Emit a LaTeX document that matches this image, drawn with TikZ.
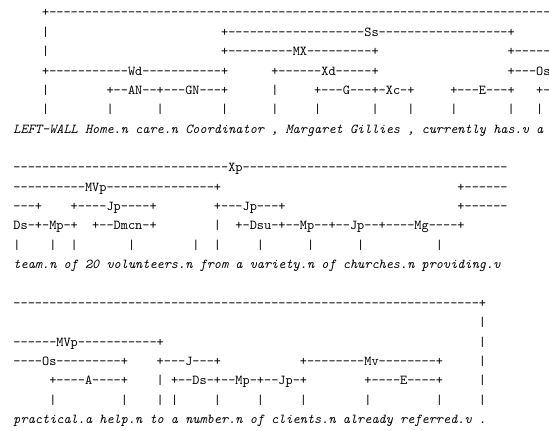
\documentclass[tikz,border=0pt]{standalone}
\usepackage{fontspec}
\ExplSyntaxOn
\cs_new:Npn \lgdash #1 { \prg_replicate:nn {#1} {-} }
\ExplSyntaxOff
\tikzset{
  lg/.style={anchor=base west, inner sep=0pt, font=\ttfamily},
  lgword/.style={lg, font=\ttfamily\itshape}
}

\begin{document}
\begin{tikzpicture}[x=5.25pt, y=14.2pt]
    \useasboundingbox (-1.84,0.873) rectangle (74.82,-21.33);
    
    % first line
    \node[lg] (xp1) at (4,0) {+\lgdash{70}};
    \node[lg] (lw1) at (4,-1) {|};
    \node[lg] (ss) at (29,-1) {+\lgdash{19}Ss\lgdash{18}+};
    \node[lg] (lw2) at (4,-2) {|};
    \node[lg] (mx) at (29,-2) {+\lgdash{9}MX\lgdash{9}+};
    \node[lg] (mvp1) at (69,-2) {+\lgdash{5}};
    \node[lg] (wd) at (4,-3) {+\lgdash{11}Wd\lgdash{11}+};
    \node[lg] (xd) at (36,-3) {+\lgdash{6}Xd\lgdash{5}+};
    \node[lg] (os1) at (69,-3) {+---Os};
    \node[lg] (lw3) at (4,-4) {|};
    \node[lg] (an) at (13,-4) {+--AN--+---GN---+};
    \node[lg] (cm1) at (36,-4) {|};
    \node[lg] (g) at (42,-4) {+---G---+-Xc-+};
    \node[lg] (e1) at (61,-4) {+---E---+};
    \node[lg] (ds1) at (73,-4) {+-};
    \foreach \c in {4,13,20,29,36,42,50,55,61,69,73}
      \node[lg] (pa\c) at (\c,-5) {|};
    \node[lgword] (words1) at (0,-6) {LEFT-WALL Home.n care.n Coordinator , Margaret Gillies , currently has.v a};
    
    % second line
    \node[lg] (xp2) at (0,-8) {\lgdash{30}Xp\lgdash{37}};
    \node[lg] (mvp2) at (0,-9) {\lgdash{10}MVp\lgdash{15}+};
    \node[lg] (mvp3) at (62,-9) {+\lgdash{6}};
    \node[lg] (os2) at (0,-10) {---+};
    \node[lg] (jp1) at (8,-10) {+----Jp----+};
    \node[lg] (jp2) at (28,-10) {+---Jp---+};
    \node[lg] (os3) at (62,-10) {+\lgdash{6}};
    \node[lg] (ds2) at (0,-11) {Ds-+-Mp-+};
    \node[lg] (dmcn) at (11,-11) {+--Dmcn-+};
    \node[lg] (fr) at (28,-11) {|};
    \node[lg] (dsu) at (31,-11) {+-Dsu-+--Mp--+--Jp--+----Mg----+};
    \foreach \c in {0,5,8,16,25,28,34,41,48,59}
      \node[lg] (pb\c) at (\c,-12) {|};
    \node[lgword] (words2) at (0,-13) {team.n of 20 volunteers.n from a variety.n of churches.n providing.v};
    
    % third line
    \node[lg] (xp3) at (0,-15) {\lgdash{65}+};
    \foreach \r in {16,17,18,19}
      \node[lg] (xp\r) at (65,-\r) {|};
    \node[lg] (mvp4) at (0,-17) {\lgdash{6}MVp\lgdash{11}+};
    \node[lg] (os4) at (0,-18) {----Os\lgdash{9}+};
    \node[lg] (j) at (20,-18) {+---J---+};
    \node[lg] (mv) at (40,-18) {+\lgdash{8}Mv\lgdash{8}+};
    \node[lg] (a) at (5,-19) {+----A----+};
    \node[lg] (to) at (20,-19) {|};
    \node[lg] (ds3) at (22,-19) {+--Ds-+--Mp-+--Jp-+};
    \node[lg] (e2) at (49,-19) {+----E----+};
    \foreach \c in {5,15,20,22,28,34,40,49,59,65}
      \node[lg] (pc\c) at (\c,-20) {|};
    \node[lgword] (words3) at (0,-21) {practical.a help.n to a number.n of clients.n already referred.v .};
    
\end{tikzpicture}
\end{document}
